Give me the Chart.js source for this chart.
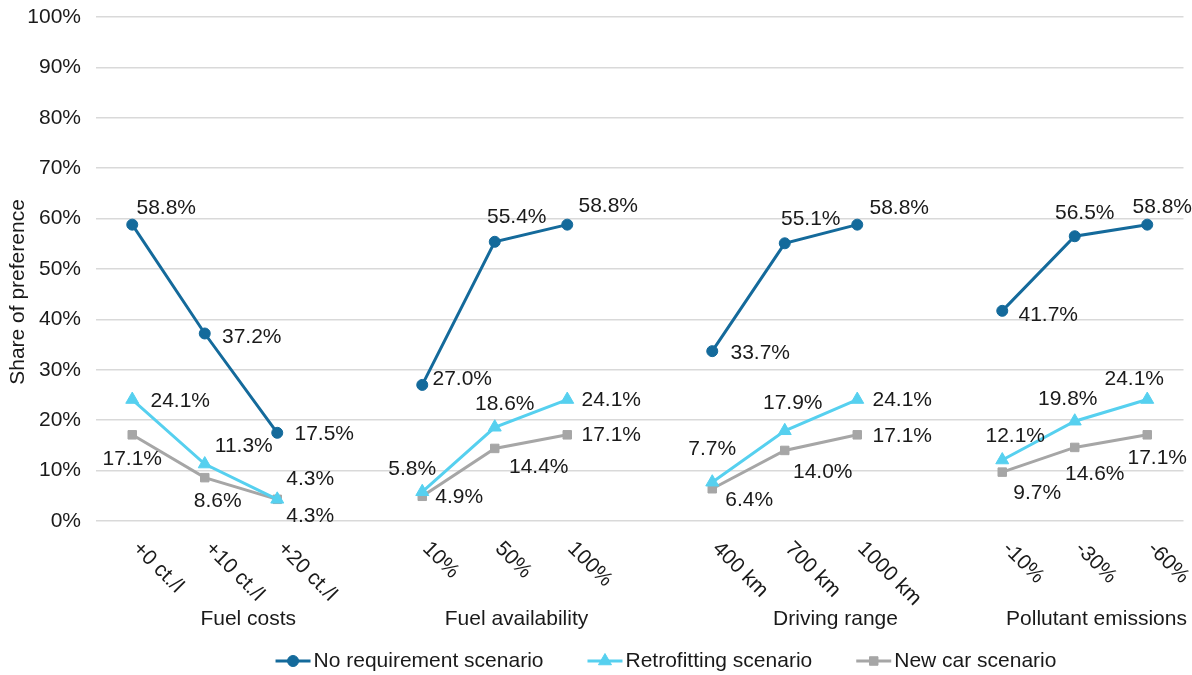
<!DOCTYPE html>
<html>
<head>
<meta charset="utf-8">
<title>Share of preference</title>
<script src="https://cdn.jsdelivr.net/npm/chart.js@4.4.1/dist/chart.umd.min.js"></script>
<style>
  html, body { margin: 0; padding: 0; background: #fff; }
</style>
</head>
<body>
<canvas id="prefChart" width="1192" height="675"></canvas>
<script>
// categories: three levels per attribute, an empty slot between attributes
const categories = ['+0 ct./l', '+10 ct./l', '+20 ct./l', '', '10%', '50%', '100%', '', '400 km', '700 km', '1000 km', '', '-10%', '-30%', '-60%'];
const groups = ['Fuel costs', 'Fuel availability', 'Driving range', 'Pollutant emissions'];

// share of preference, in percent
const noRequirement = [58.8, 37.2, 17.5, null, 27.0, 55.4, 58.8, null, 33.7, 55.1, 58.8, null, 41.7, 56.5, 58.8];
const retrofitting = [24.1, 11.3, 4.3, null, 5.8, 18.6, 24.1, null, 7.7, 17.9, 24.1, null, 12.1, 19.8, 24.1];
const newCar = [17.1, 8.6, 4.3, null, 4.9, 14.4, 17.1, null, 6.4, 14.0, 17.1, null, 9.7, 14.6, 17.1];

const seriesNames = ['No requirement scenario', 'Retrofitting scenario', 'New car scenario'];

const FONT_FAMILY = '"Liberation Sans", Arial, sans-serif';
const FONT = '21px ' + FONT_FAMILY;
const TEXT = '#1a1a1a';
const COLORS = ['#146a9b', '#56d0ef', '#a6a6a6'];
const STYLES = ['circle', 'triangle', 'rect'];
const RADII = [5.5, 7.5, 6];

// value label placement (dx, dy from the point)
const labelOffsets = [
    [[34, -16], [47, 4], [47, 1], null, [40, -6], [22, -25], [41, -18], null, [48, 2], [26, -24], [42, -16], null, [46, 4], [10, -23], [15, -17]],
    [[48, 2], [39, -18], [33, -20], null, [-10, -23], [10, -23], [44, 1], null, [0, -33], [8, -28], [45, 1], null, [13, -24], [-7, -22], [-13, -20]],
    [[0, 24], [13, 24], [33, 17], null, [37, 1], [44, 19], [44, 0], null, [37, 11], [38, 22], [45, 1], null, [35, 21], [20, 27], [10, 23]]
];
// group captions, in category units
const groupCenters = [1.6, 5.3, 9.7, 13.3];

const decorations = {
    id: 'decorations',
    afterDatasetsDraw(chart) {
        const ctx = chart.ctx;
        ctx.save();
        ctx.font = FONT;
        ctx.fillStyle = TEXT;
        ctx.textAlign = 'center';
        ctx.textBaseline = 'middle';
        chart.data.datasets.forEach((ds, i) => {
            const meta = chart.getDatasetMeta(i);
            meta.data.forEach((pt, j) => {
                const v = ds.data[j];
                if (v === null) return;
                const off = labelOffsets[i][j];
                ctx.fillText(v.toFixed(1) + '%', pt.x + off[0], pt.y + off[1]);
            });
        });
        ctx.restore();
    },
    afterDraw(chart) {
        const ctx = chart.ctx;
        const x = chart.scales.x;
        ctx.save();
        ctx.font = FONT;
        ctx.fillStyle = TEXT;

        // slanted level labels
        categories.forEach((c, i) => {
            if (!c) return;
            const px = x.getPixelForValue(i);
            ctx.save();
            ctx.translate(px + 11, 538);
            ctx.rotate(Math.PI / 4);
            ctx.textAlign = 'left';
            ctx.textBaseline = 'top';
            ctx.fillText(c, 0, 0);
            ctx.restore();
        });

        // attribute captions
        ctx.textAlign = 'center';
        ctx.textBaseline = 'middle';
        groups.forEach((g, i) => {
            ctx.fillText(g, x.getPixelForValue(groupCenters[i]), 619);
        });

        // y axis title
        ctx.save();
        ctx.translate(18, 292);
        ctx.rotate(-Math.PI / 2);
        ctx.fillText('Share of preference', 0, 0);
        ctx.restore();

        // legend
        const lineW = 35, gapText = 3, gapItem = 44, ly = 661;
        const widths = seriesNames.map(n => ctx.measureText(n).width);
        const total = widths.reduce((a, b) => a + b, 0) + seriesNames.length * (lineW + gapText) + gapItem * (seriesNames.length - 1);
        let lx = 666 - total / 2;
        ctx.textAlign = 'left';
        seriesNames.forEach((n, i) => {
            ctx.strokeStyle = COLORS[i];
            ctx.fillStyle = COLORS[i];
            ctx.lineWidth = 3;
            ctx.beginPath();
            ctx.moveTo(lx, ly);
            ctx.lineTo(lx + lineW, ly);
            ctx.stroke();
            ctx.lineWidth = 1;
            Chart.helpers.drawPoint(ctx, { pointStyle: STYLES[i], radius: RADII[i], rotation: 0, borderWidth: 1 }, lx + lineW / 2, ly);
            ctx.fillStyle = TEXT;
            ctx.fillText(n, lx + lineW + gapText, ly);
            lx += lineW + gapText + widths[i] + gapItem;
        });
        ctx.restore();
    }
};

const seriesData = [noRequirement, retrofitting, newCar];

new Chart(document.getElementById('prefChart'), {
    type: 'line',
    data: {
        labels: categories,
        datasets: seriesData.map((d, i) => ({
            label: seriesNames[i],
            data: d,
            borderColor: COLORS[i],
            backgroundColor: COLORS[i],
            pointBackgroundColor: COLORS[i],
            pointBorderColor: COLORS[i],
            pointStyle: STYLES[i],
            pointRadius: RADII[i],
            pointBorderWidth: 1,
            borderWidth: 3,
            tension: 0,
            spanGaps: false,
            clip: false
        }))
    },
    options: {
        responsive: false,
        animation: false,
        layout: { padding: { left: 0, top: 17, right: 8, bottom: 154 } },
        plugins: {
            legend: { display: false },
            tooltip: { enabled: false }
        },
        scales: {
            x: {
                display: false,
                offset: true
            },
            y: {
                min: 0,
                max: 100,
                afterFit: s => {
                    s.width = 96;
                    s.paddingTop = 0;
                    s.paddingBottom = 0;
                },
                border: { display: false },
                grid: { color: '#d9d9d9', lineWidth: 1.5, drawTicks: false },
                ticks: {
                    stepSize: 10,
                    padding: 15,
                    color: TEXT,
                    font: { family: FONT_FAMILY, size: 21 },
                    callback: v => v + '%'
                }
            }
        }
    },
    plugins: [decorations]
});
</script>
</body>
</html>
